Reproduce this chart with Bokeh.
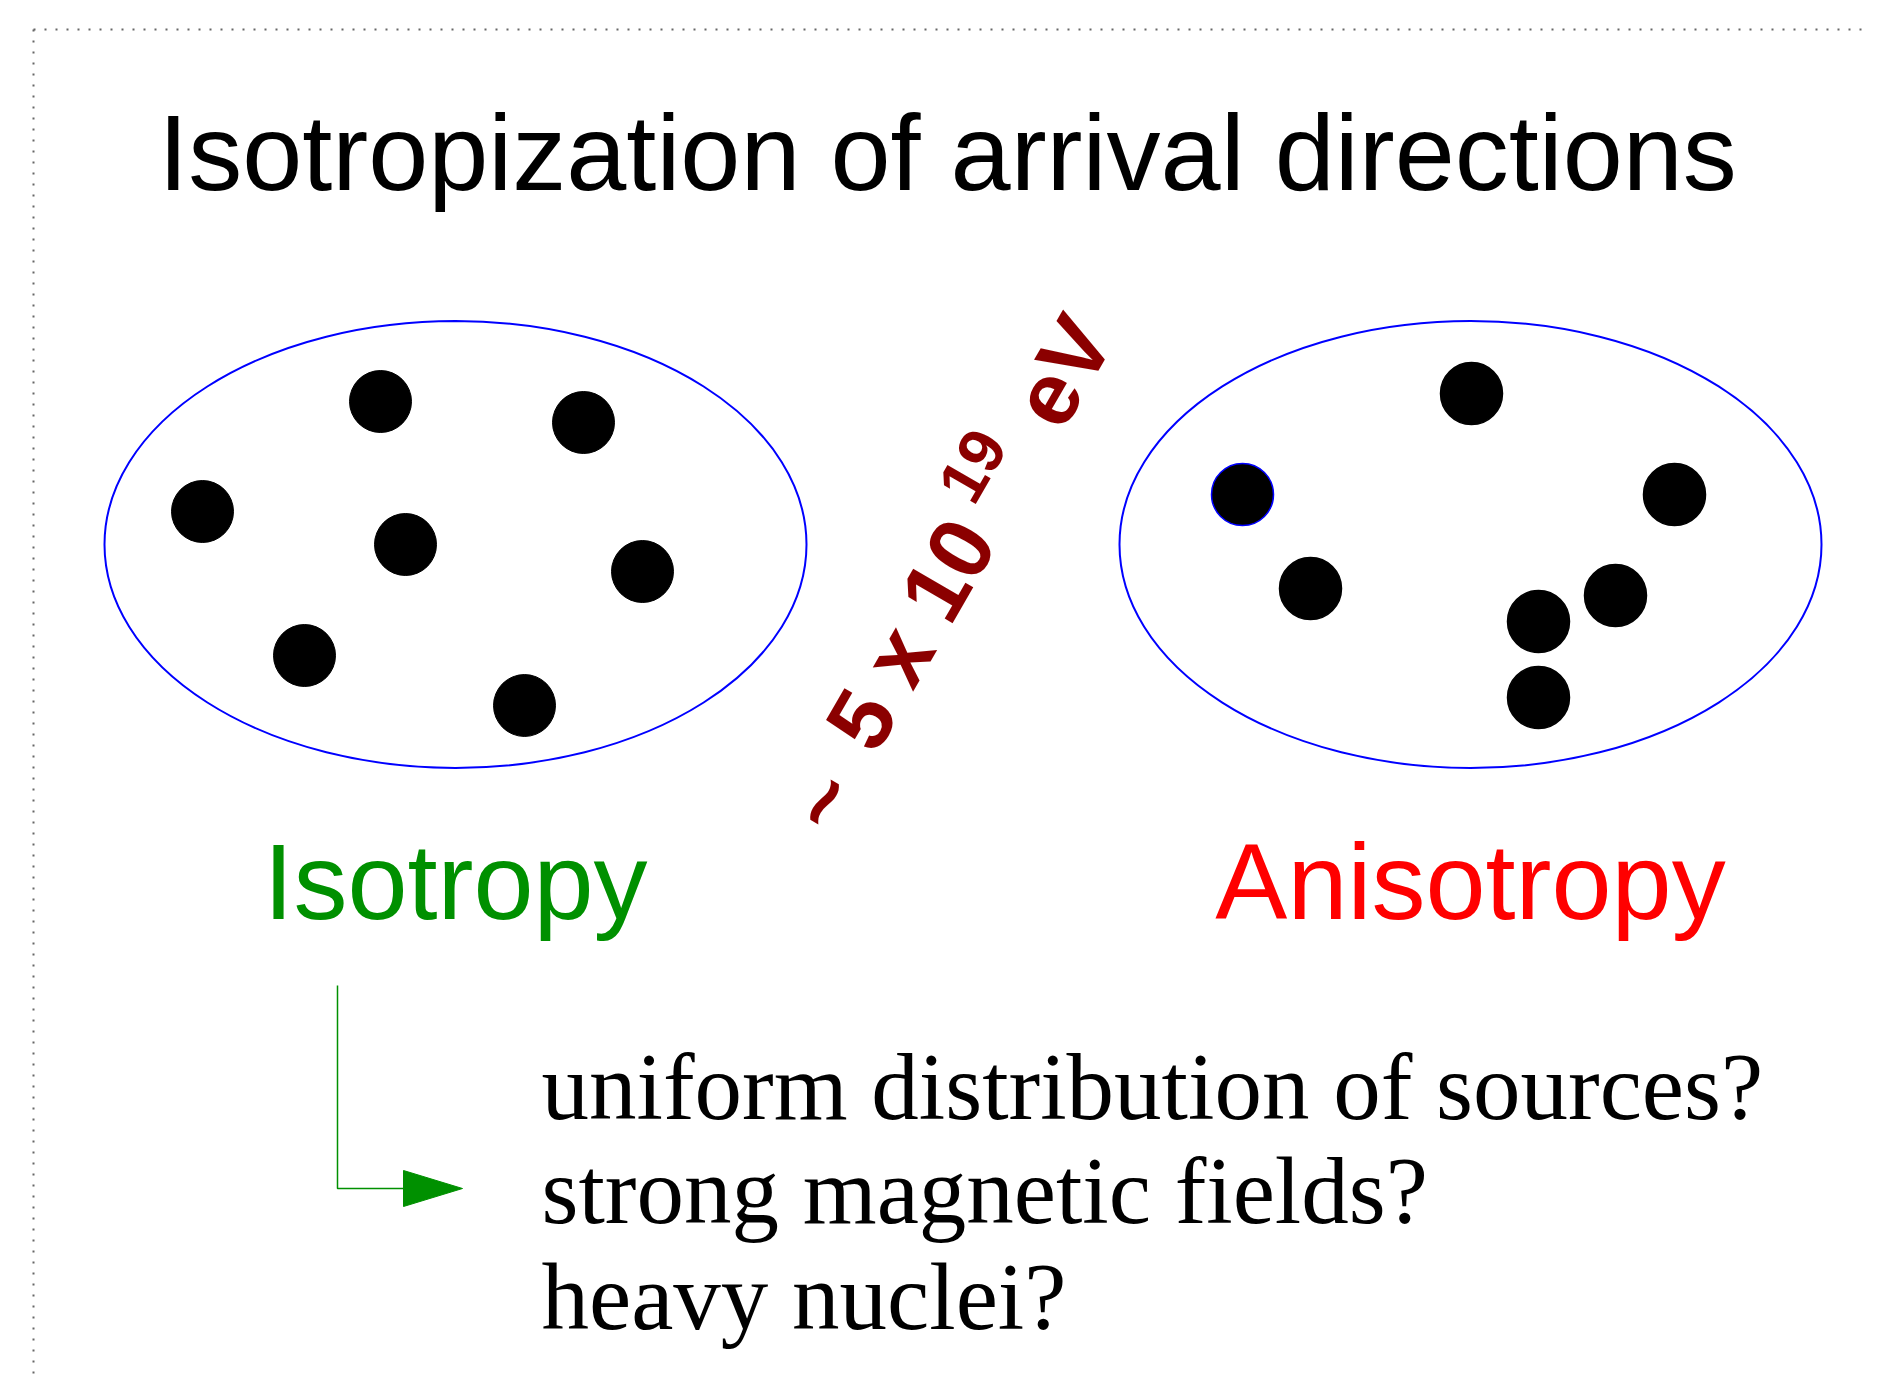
import numpy as np
from bokeh.plotting import figure
from bokeh.models import Range1d
from bokeh.core.properties import value
from bokeh.embed import file_html
from bokeh.resources import INLINE

# ---- content -------------------------------------------------------------
title_text = "Isotropization of arrival directions"
label_left = "Isotropy"
label_right = "Anisotropy"
energy_tilde = "~"
energy_main = "5 x 10"
energy_exp = "19"
energy_unit = "eV"
questions = ["uniform distribution of sources?",
             "strong magnetic fields?",
             "heavy nuclei?"]

# ellipse centres (page pixels)
ell_x = [455, 1470]
ell_y = [544, 544]

# arrival-direction dots (page pixels)
iso_x = [380, 583, 202, 405, 642, 304, 524]
iso_y = [401, 422, 511, 544, 571, 655, 705]
ani_x = [1471, 1242, 1674, 1310, 1615, 1538, 1538]
ani_y = [393, 494, 494, 588, 595, 621, 697]
ani_outline = ["black", "blue", "black", "black", "black", "black", "black"]

# arrow path
arrow_x = [337, 337, 404]
arrow_y = [985, 1188, 1188]
head_x = [403, 462, 403]
head_y = [1170, 1188, 1206]

W, H = 1868, 1378
p = figure(width=W, height=H, output_backend="svg", toolbar_location=None,
           x_range=Range1d(0, W), y_range=Range1d(H, 0),
           x_axis_type=None, y_axis_type=None, min_border=0,
           outline_line_color=None, background_fill_color="white")
p.xgrid.visible = False
p.ygrid.visible = False

# empirical shift from requested alphabetic baseline to rendered one (in em)
BASE_FIX = 0.355

# dotted frame
p.line([33, 1884], [29, 29], line_color="#666666", line_width=2, line_dash="2 9")
p.line([33, 33], [29, 1394], line_color="#666666", line_width=2, line_dash="2 9")

sans = value("Liberation Sans")
serif = value("Liberation Serif")


def htext(x, y, txt, size, font, color, align="center"):
    ys = [yy - BASE_FIX * size for yy in y]
    p.text(x=x, y=ys, text=txt, text_font=font, text_font_size=f"{size}px",
           text_align=align, text_baseline="alphabetic", text_color=color)


# title
htext([947], [190], [title_text], 108, sans, "black")

# ellipses
p.ellipse(x=ell_x, y=ell_y, width=702, height=447, fill_color=None,
          line_color="#0000ff", line_width=2)

# dots
p.circle(x=iso_x, y=iso_y, radius=31, fill_color="black", line_color="black")
p.circle(x=ani_x, y=ani_y, radius=31, fill_color="black", line_color=ani_outline,
         line_width=1.5)

# labels
htext([ell_x[0]], [919], [label_left], 108, sans, "#009000")
htext([ell_x[1]], [919], [label_right], 108, sans, "#ff0000")

# rotated energy label
theta = np.deg2rad(60.0)
u = np.array([np.cos(theta), -np.sin(theta)])   # along baseline (screen, y down)
n = np.array([-np.sin(theta), -np.cos(theta)])  # text "up"
p5 = np.array([888.0, 735.0])                   # baseline point under the "5"
col = "#8b0000"
pieces = [
    (energy_tilde, p5 - 120 * u + np.array([9.0, 0.0]), 89),
    (energy_main, p5 - 24.7 * u, 89),
    (energy_exp, p5 + 240 * u + 40 * n, 64),
    (energy_unit, p5 + 348 * u, 89),
]
for txt, pos, size in pieces:
    q = pos + BASE_FIX * size * n
    p.text(x=[q[0]], y=[q[1]], text=[txt], angle=theta, text_font=sans,
           text_font_style="bold", text_font_size=f"{size}px", text_align="left",
           text_baseline="alphabetic", text_color=col)

# arrow
p.line(arrow_x, arrow_y, line_color="#009000", line_width=1.5)
p.patch(head_x, head_y, fill_color="#009000", line_color="#009000")

# questions
htext([541] * 3, [1120, 1224, 1330], questions, 95, serif, "black", align="left")

open("out.html", "w").write(file_html(p, INLINE))
